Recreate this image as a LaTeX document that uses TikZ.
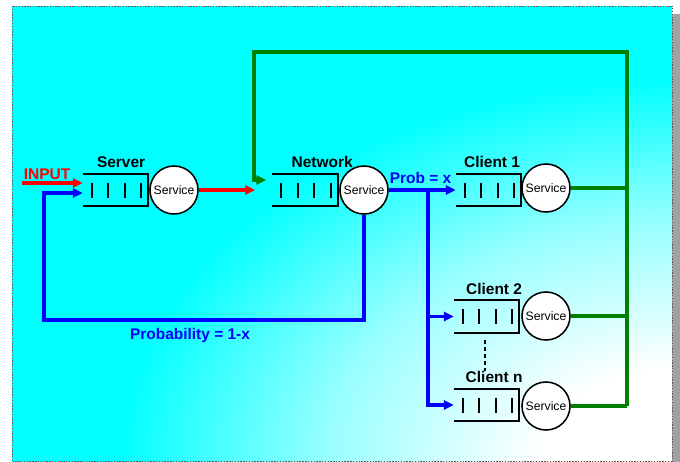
\documentclass[tikz,border=0pt]{standalone}
\usepackage{fontspec}
\setmainfont{Liberation Sans}
\usetikzlibrary{arrows.meta}
\usetikzlibrary{calc}
\usetikzlibrary{positioning}

\definecolor{loopgreen}{RGB}{0,128,0}
\pgfdeclareradialshading{bgfade}{\pgfpointorigin}{color(0bp)=(white); color(2.5bp)=(white); color(6.5bp)=(cyan!40!white); color(10.5bp)=(cyan); color(50bp)=(cyan)}

\begin{document}
\begin{tikzpicture}[x=0.025cm, y=-0.025cm,
	qbox/.style={minimum width=1.625cm, minimum height=0.8cm, inner sep=0pt},
	srvc/.style={circle, draw, fill=white, line width=1.1pt, minimum size=1.2cm, inner sep=0pt, font=\fontsize{8.7}{10}\selectfont},
	lbl/.style={font=\fontsize{11}{13}\selectfont\bfseries, inner sep=0pt, anchor=base},
	flow/.style={line width=2.4pt, -{Triangle[length=7pt, width=6.5pt]}},
	link/.style={line width=2.4pt}]
		\useasboundingbox (0, 0) rectangle (680, 462);
		\fill [black!37] (672, 14) rectangle (680, 462); % Skugga
		\begin{scope}
			\clip (12, 6) rectangle (672, 461);
			\shade [shading=bgfade] (672, 461) ellipse [x radius=33cm, y radius=22.75cm]; % Bakgrund
		\end{scope}
		\draw [black!65, line width=0.7pt, dash pattern=on 1pt off 1pt] (12, 6) rectangle (672, 461);
		
		\node [qbox] (srvq) at (115.5, 190) {}; % Köer
		\node [qbox] (netq) at (305, 190) {};
		\node [qbox] (c1q) at (488.5, 190) {};
		\node [qbox] (c2q) at (486.5, 316.5) {};
		\node [qbox] (cnq) at (486.5, 405) {};
		\node [srvc] (srv) at (174, 190) {Service}; % Betjänare
		\node [srvc] (net) at (364, 190) {Service};
		\node [srvc] (c1) at (546, 188) {Service};
		\node [srvc] (c2) at (546, 316) {Service};
		\node [srvc] (cn) at (546, 406) {Service};
		
		\foreach \q in {srvq, netq, c1q, c2q, cnq} {
			\draw [line width=1.6pt] (\q.north west) -- (\q.north east) -- (\q.south east) -- (\q.south west);
			\foreach \x in {9, 25.5, 42, 58.5}
				\draw [line width=1.4pt] ($(\q.west) + (\x, -7.5)$) -- ++(0, 15);
		}
		
		\node [lbl] (srvl) at ([xshift=0.14cm, yshift=0.15cm]srvq.north) {Server};
		\node [lbl] (netl) at ([xshift=0.43cm, yshift=0.15cm]netq.north) {Network};
		\node [lbl] (c1l) at ([xshift=0.09cm, yshift=0.15cm]c1q.north) {Client 1};
		\node [lbl] (c2l) at ([xshift=0.19cm, yshift=0.15cm]c2q.north) {Client 2};
		\node [lbl] (cnl) at ([xshift=0.19cm, yshift=0.15cm]cnq.north) {Client n};
		
		\coordinate (inp) at (22, 183);
		\node [lbl, text=red] (inpl) at (47, 179) {INPUT};
		\draw [flow, red] (inp) -- (inp -| srvq.west); % Inflöde
		\draw [flow, red] (srv.east) -- ([xshift=-0.425cm]netq.west);
		
		\coordinate (back) at (44, 320);
		\draw [flow, blue] (net.south) |- (back) |- ([yshift=-0.075cm]srvq.west); % Återkoppling
		\node [lbl, text=blue] (probl) at (190, 339) {Probability = 1-x};
		
		\coordinate (fork) at (428, 190);
		\draw [flow, blue] (net.east) -- (c1q.west |- net.east); % Till klienterna
		\draw [flow, blue] (fork) |- (c2q.west);
		\draw [flow, blue] (fork) |- (cnq.west);
		\node [lbl, text=blue] (pxl) at (420.5, 183) {Prob = x};
		
		\coordinate (dtop) at (485, 340);
		\draw [line width=1.2pt, dash pattern=on 3pt off 2pt] (dtop) -- (dtop |- cnl.north); % Punkter
		
		\coordinate (gr) at (627, 52);
		\coordinate (gl) at (254, 52);
		\draw [link, loopgreen] (c1.east) -- (c1.east -| gr); % Tillbaka till nätet
		\draw [link, loopgreen] (c2.east) -- (c2.east -| gr);
		\draw [link, loopgreen] (cn.east) -- (cn.east -| gr);
		\draw [flow, loopgreen] (cn.east -| gr) -- (gr) -- (gl) |- ([xshift=-0.15cm, yshift=0.25cm]netq.west);
	\end{tikzpicture}
\end{document}
